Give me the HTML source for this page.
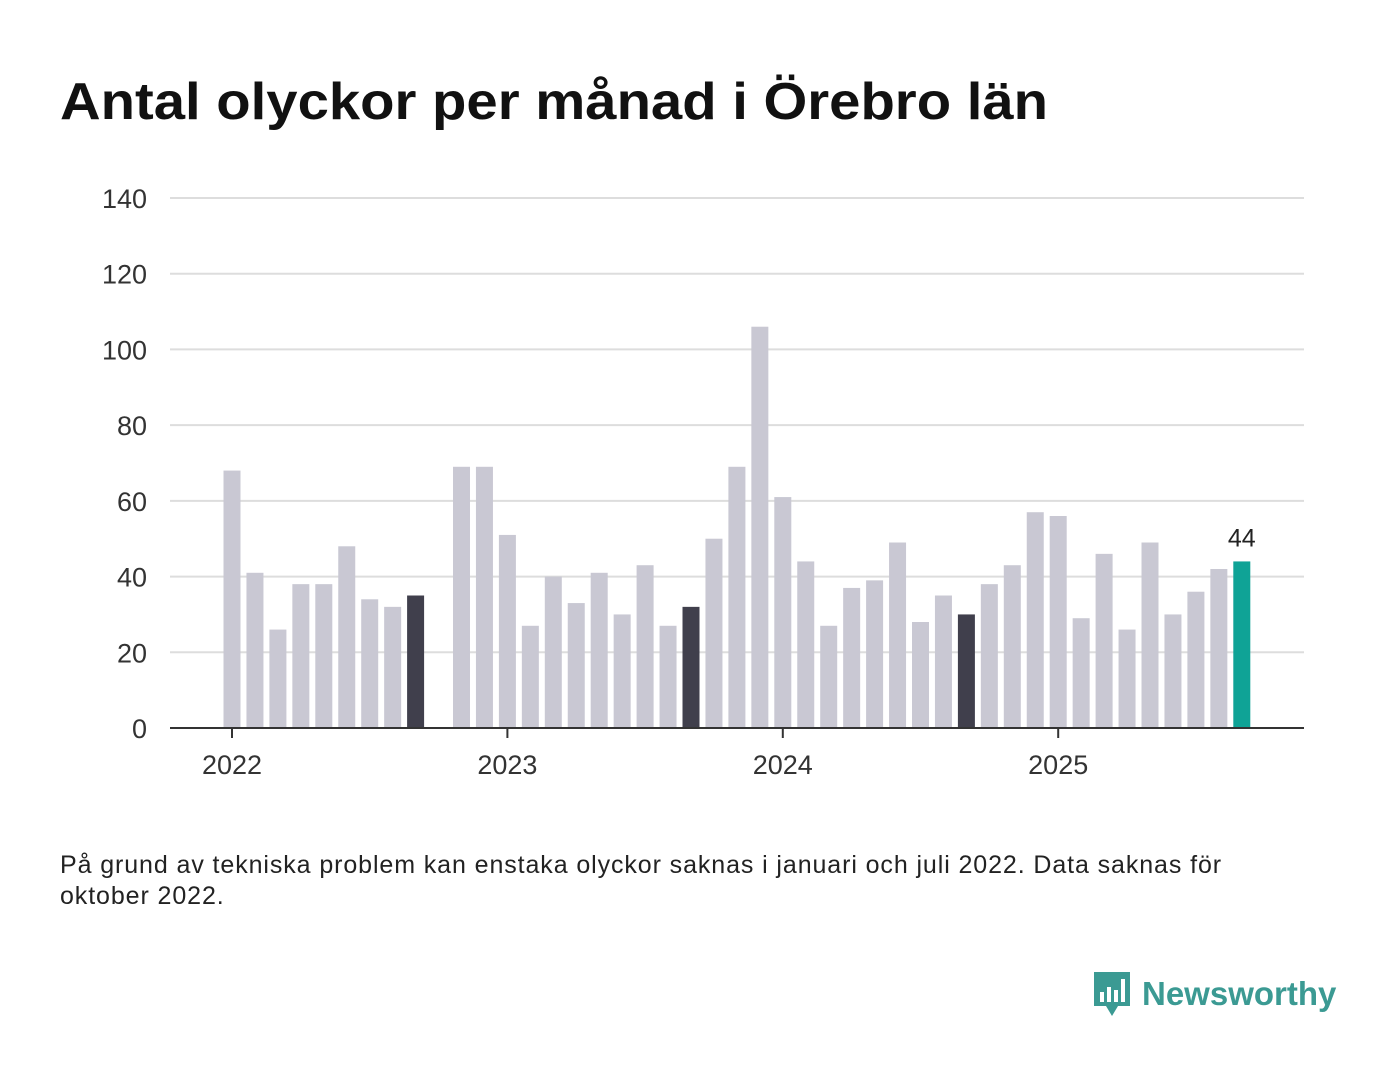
<!DOCTYPE html>
<html><head><meta charset="utf-8">
<style>
body{margin:0;width:1400px;height:1080px;background:#fff;font-family:"Liberation Sans",sans-serif;overflow:hidden;position:relative}
h1{position:absolute;left:60px;top:72px;margin:0;font-size:52px;font-weight:bold;color:#111;transform-origin:0 0;transform:scaleX(1.082);white-space:nowrap}
.note{position:absolute;left:60px;top:850px;font-size:25px;color:#222;line-height:31px;width:1225px;letter-spacing:0.9px}
.logo{position:absolute;left:1092px;top:970px;display:flex;align-items:center}
.logo span{font-size:33px;font-weight:bold;color:#3b9a93;margin-left:10px}
</style></head><body>
<h1>Antal olyckor per månad i Örebro län</h1>
<svg id="chart" width="1400" height="820" style="position:absolute;left:0;top:0"></svg>
<div class="note">På grund av tekniska problem kan enstaka olyckor saknas i januari och juli 2022. Data saknas för oktober 2022.</div>
<div class="logo">
<svg width="40" height="48" viewBox="0 0 40 48"><path d="M2 2h36v34H26l-6 10-6-10H2z" fill="#3b9a93"/><rect x="8" y="22" width="4" height="10" fill="#fff"/><rect x="15" y="17" width="4" height="15" fill="#fff"/><rect x="22" y="20" width="4" height="12" fill="#fff"/><rect x="29" y="9" width="4" height="23" fill="#fff"/></svg>
<span>Newsworthy</span></div>
<script>
const months=["2022-01","2022-02","2022-03","2022-04","2022-05","2022-06","2022-07","2022-08","2022-09","2022-10","2022-11","2022-12","2023-01","2023-02","2023-03","2023-04","2023-05","2023-06","2023-07","2023-08","2023-09","2023-10","2023-11","2023-12","2024-01","2024-02","2024-03","2024-04","2024-05","2024-06","2024-07","2024-08","2024-09","2024-10","2024-11","2024-12","2025-01","2025-02","2025-03","2025-04","2025-05","2025-06","2025-07","2025-08","2025-09"];
const values=[68,41,26,38,38,48,34,32,35,null,69,69,51,27,40,33,41,30,43,27,32,50,69,106,61,44,27,37,39,49,28,35,30,38,43,57,56,29,46,26,49,30,36,42,44];
const yTicks=[0,20,40,60,80,100,120,140];
const xTickLabels=["2022","2023","2024","2025"];
const NS="http://www.w3.org/2000/svg";
const svg=document.getElementById('chart');
const y=v=>728-v*(530/140);
const x=i=>232+i*22.95;
function mk(t,a){const e=document.createElementNS(NS,t);for(const k in a)e.setAttribute(k,a[k]);svg.appendChild(e);return e;}
yTicks.forEach(t=>{
 if(t>0){const l=mk('line',{x1:170,x2:1304,y1:y(t),y2:y(t),stroke:'#ddd','stroke-width':2});
 
 }
 const tx=mk('text',{x:147,y:y(t)+10,'text-anchor':'end','font-size':27,fill:'#333','font-family':'Liberation Sans, sans-serif'});
 tx.textContent=t;
 
 
});
values.forEach((v,i)=>{
 if(v==null)return;
 const m=+months[i].slice(5);
 const last=i===values.length-1;
 const fill=last?'#0fa396':(m===9?'#403f4c':'#c9c8d3');
 const r=mk('rect',{x:x(i)-8.5,y:y(v),width:17,height:728-y(v),fill:fill});
 
 
 if(last){const t=mk('text',{x:x(i),y:y(v)-15,'text-anchor':'middle','font-size':25,fill:'#222','font-family':'Liberation Sans, sans-serif'});t.textContent=v;
 
 }
});
const ax=mk('line',{x1:170,x2:1304,y1:728,y2:728,stroke:'#333','stroke-width':2});


xTickLabels.forEach((lab,k)=>{
 const i=months.indexOf(lab+'-01');
 const tk=mk('line',{x1:x(i),x2:x(i),y1:728,y2:738,stroke:'#333','stroke-width':2});
 
 
 const t=mk('text',{x:x(i),y:774,'text-anchor':'middle','font-size':27,fill:'#333','font-family':'Liberation Sans, sans-serif'});
 t.textContent=lab;
 
 
});
</script>
</body></html>
